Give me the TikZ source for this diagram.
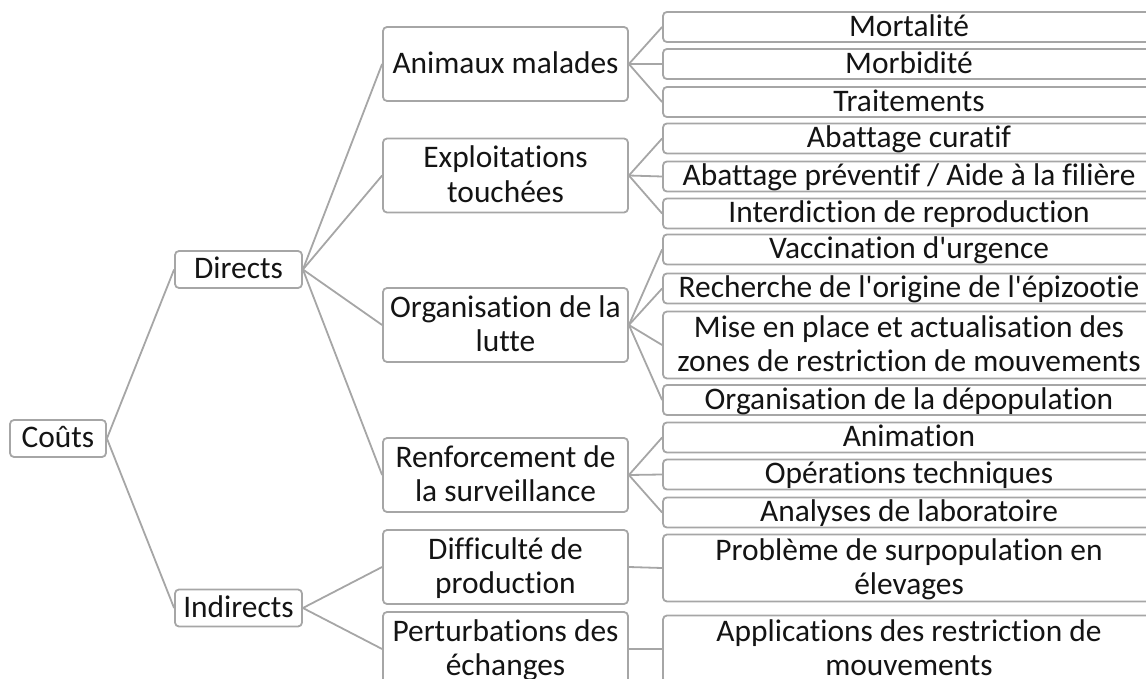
\documentclass[tikz,border=0pt]{standalone}
\usepackage{fontspec}
\setmainfont{Carlito}[Ligatures={TeXOff,NoCommon}]
\definecolor{linegray}{RGB}{166,166,166}
\definecolor{txtcol}{RGB}{20,20,20}
\newcommand{\ms}{\rule[-0.18em]{0pt}{0.96em}}
\begin{document}
\begin{tikzpicture}[x=1pt,y=-1pt,
  box/.style={draw=linegray, line width=1.8pt, rounded corners=4pt, fill=white,
    inner sep=0pt, align=center, text=txtcol, font=\fontsize{31.4}{34.4}\selectfont},
  rootbox/.style={box, minimum width=96pt, minimum height=37pt},
  lvlone/.style={box, minimum width=127pt, minimum height=37pt},
  lvltwo/.style={box, minimum width=245pt, minimum height=74pt},
  leafbox/.style={box, minimum width=492pt, minimum height=30pt},
  leaftwo/.style={box, minimum width=492pt, minimum height=67pt},
  conn/.style={draw=linegray, line width=1.8pt}]
\useasboundingbox (0,0) rectangle (1146,679);
\clip (0,0) rectangle (1146,679);
% root
\node[rootbox] (couts) at (58,438.5) {\ms Coûts};
\node[lvlone] (directs) at (238.5,269.5) {\ms Directs};
\node[lvlone] (indirects) at (238.5,608) {\ms Indirects};
% level 2
\node[lvltwo] (animaux) at (505.5,64) {\ms Animaux malades};
\node[lvltwo] (exploit) at (505.5,175.5) {\ms Exploitations\\\ms touchées};
\node[lvltwo] (orga) at (505.5,325) {\ms Organisation de la\\\ms lutte};
\node[lvltwo] (renf) at (505.5,475) {\ms Renforcement de\\\ms la surveillance};
\node[lvltwo] (diff) at (505.5,567) {\ms Difficulté de\\\ms production};
\node[lvltwo] (pert) at (505.5,649) {\ms Perturbations des\\\ms échanges};
% leaves
\node[leafbox] (mort) at (909,27) {\ms Mortalité};
\node[leafbox] (morb) at (909,64) {\ms Morbidité};
\node[leafbox] (trait) at (909,102) {\ms Traitements};
\node[leafbox] (abc) at (909,138.5) {\ms Abattage curatif};
\node[leafbox] (abp) at (909,176.5) {\ms Abattage préventif / Aide à la filière};
\node[leafbox] (inter) at (909,213.5) {\ms Interdiction de reproduction};
\node[leafbox] (vacc) at (909,249.5) {\ms Vaccination d'urgence};
\node[leafbox] (rech) at (909,288.5) {\ms Recherche de l'origine de l'épizootie};
\node[leaftwo] (mise) at (909,345) {\ms Mise en place et actualisation des\\\ms zones de restriction de mouvements};
\node[leafbox] (orgd) at (909,400) {\ms Organisation de la dépopulation};
\node[leafbox] (anim) at (909,437.5) {\ms Animation};
\node[leafbox] (oper) at (909,474.5) {\ms Opérations techniques};
\node[leafbox] (anal) at (909,512.5) {\ms Analyses de laboratoire};
\node[leaftwo] (prob) at (909,568) {\ms Problème de surpopulation en\\\ms élevages};
\node[leaftwo] (appl) at (909,649) {\ms Applications des restriction de\\\ms mouvements};
% connectors
\draw[conn] (couts.east) -- (directs.west);
\draw[conn] (couts.east) -- (indirects.west);
\foreach \c in {animaux,exploit,orga,renf} \draw[conn] (directs.east) -- (\c.west);
\foreach \c in {diff,pert} \draw[conn] (indirects.east) -- (\c.west);
\foreach \c in {mort,morb,trait} \draw[conn] (animaux.east) -- (\c.west);
\foreach \c in {abc,abp,inter} \draw[conn] (exploit.east) -- (\c.west);
\foreach \c in {vacc,rech,mise,orgd} \draw[conn] (orga.east) -- (\c.west);
\foreach \c in {anim,oper,anal} \draw[conn] (renf.east) -- (\c.west);
\draw[conn] (diff.east) -- (prob.west);
\draw[conn] (pert.east) -- (appl.west);
\end{tikzpicture}
\end{document}
